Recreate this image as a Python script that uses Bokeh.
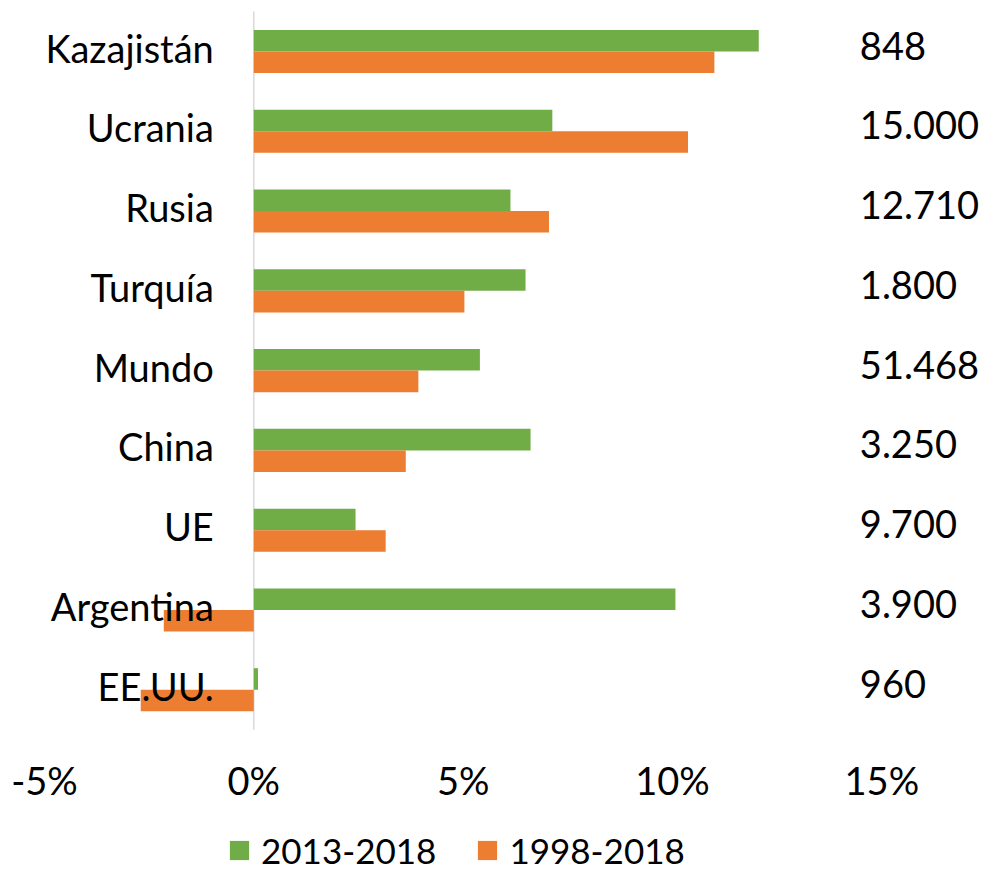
from bokeh.plotting import figure
from bokeh.models import (ColumnDataSource, Range1d, FixedTicker, LinearAxis,
                          PrintfTickFormatter, Legend, LegendItem)
from bokeh.transform import dodge
from bokeh.core.properties import value
from bokeh.embed import file_html
from bokeh.resources import INLINE

# ---- data ----
categories = ["Kazajistán", "Ucrania", "Rusia", "Turquía", "Mundo",
              "China", "UE", "Argentina", "EE.UU."]
growth_2013_2018 = [12.06, 7.13, 6.13, 6.49, 5.40, 6.61, 2.43, 10.07, 0.10]
growth_1998_2018 = [11.00, 10.37, 7.05, 5.03, 3.93, 3.63, 3.15, -2.15, -2.70]
volumes = ["848", "15.000", "12.710", "1.800", "51.468",
           "3.250", "9.700", "3.900", "960"]
x_ticks = [-5, 0, 5, 10, 15]
series_names = ["2013-2018", "1998-2018"]

GREEN = "#70AD47"
ORANGE = "#ED7D31"
FONT = "Lato"
FS = "38px"

n = len(categories)
ypos = list(range(n - 1, -1, -1))   # first category at the top

src = ColumnDataSource(dict(cat=categories, y=ypos, g=growth_2013_2018,
                            o=growth_1998_2018, vol=volumes))

# ---- layout geometry (pixels) ----
W, H = 980, 872
ZERO_PX, PX_PER_PCT = 253.3, 41.87
TOP_ROW_PX, ROW_PX = 51.0, 79.78

p = figure(width=W, height=H,
           x_range=Range1d(-ZERO_PX / PX_PER_PCT, (W - ZERO_PX) / PX_PER_PCT),
           y_range=Range1d((n - 1) - (H - TOP_ROW_PX) / ROW_PX,
                           (n - 1) + TOP_ROW_PX / ROW_PX),
           output_backend="svg", toolbar_location=None,
           x_axis_location=None, y_axis_location=None,
           min_border_left=0, min_border_right=0,
           min_border_top=0, min_border_bottom=0)

# zero reference line spanning the category area
p.segment(x0=0, y0=-0.5, x1=0, y1=n - 0.5, line_color="#D9D9D9",
          line_width=1.5, level="underlay")

r1 = p.hbar(y=dodge("y", 0.135), left=0, right="g",
            height=0.27, fill_color=GREEN, line_color=None, source=src)
r2 = p.hbar(y=dodge("y", -0.135), left=0, right="o",
            height=0.27, fill_color=ORANGE, line_color=None, source=src)

p.text(x=0, y="y", text="cat", x_offset=-40, y_offset=-4, text_align="right",
       text_baseline="middle", text_font=value(FONT), text_font_size=FS,
       text_color="black", source=src)
p.text(x=15, y="y", text="vol", x_offset=-22, y_offset=-6, text_align="left",
       text_baseline="middle", text_font=value(FONT), text_font_size=FS,
       text_color="black", source=src)

ax = LinearAxis(fixed_location=-0.5)
ax.ticker = FixedTicker(ticks=x_ticks)
ax.formatter = PrintfTickFormatter(format="%d%%")
ax.axis_line_color = None
ax.major_tick_line_color = None
ax.minor_tick_line_color = None
ax.major_tick_out = 0
ax.major_tick_in = 0
ax.major_label_standoff = 27
ax.major_label_text_font = FONT
ax.major_label_text_font_size = FS
ax.major_label_text_color = "black"
p.add_layout(ax, "below")

p.xgrid.visible = False
p.ygrid.visible = False
p.outline_line_color = None

legend = Legend(items=[LegendItem(label=series_names[0], renderers=[r1]),
                       LegendItem(label=series_names[1], renderers=[r2])],
                location=(227, 1), orientation="horizontal",
                glyph_width=24, glyph_height=24, label_standoff=10,
                spacing=39, padding=0, margin=0,
                border_line_color=None, background_fill_alpha=0,
                label_text_font=FONT, label_text_font_size="35px",
                label_text_color="black")
p.add_layout(legend)

open("out.html", "w").write(file_html(p, INLINE))
